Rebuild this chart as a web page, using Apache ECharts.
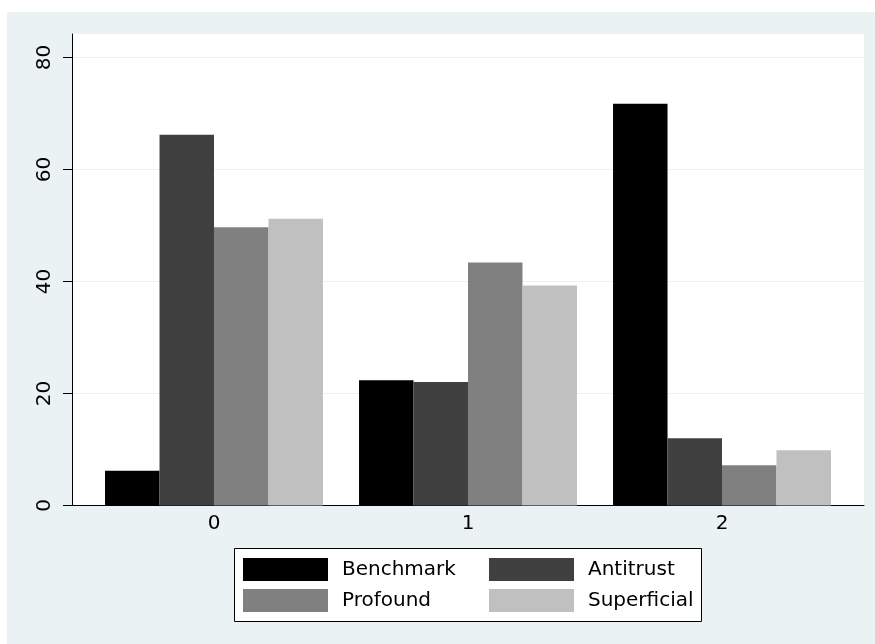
<!DOCTYPE html>
<html>
<head>
<meta charset="utf-8">
<script src="https://cdn.jsdelivr.net/npm/echarts@6/dist/echarts.min.js"></script>
<style>
html,body{margin:0;padding:0;background:#fff;}
#chart{width:875px;height:644px;}
</style>
</head>
<body>
<div id="chart"></div>
<script>
const categories = ['0', '1', '2'];
const seriesNames = ['Benchmark', 'Antitrust', 'Profound', 'Superficial'];
const benchmark = [6.2, 22.35, 71.75];
const antitrust = [66.2, 22.05, 12.0];
const profound = [49.7, 43.4, 7.2];
const superficial = [51.2, 39.3, 9.85];
const yTicks = [0, 20, 40, 60, 80];

const colors = ['#000000', '#404040', '#808080', '#c0c0c0'];
const values = [benchmark, antitrust, profound, superficial];
const FONT = 'DejaVu Sans';

const chart = echarts.init(document.getElementById('chart'));
const option = {
  animation: false,
  backgroundColor: 'transparent',
  textStyle: { fontFamily: FONT },
  graphic: [
    { type: 'rect', z: -100, shape: { x: 7, y: 12, width: 868, height: 632 }, style: { fill: '#eaf2f3' } },
    { type: 'rect', z: 1, shape: { x: 234.5, y: 548.5, width: 467, height: 73 }, style: { fill: '#ffffff', stroke: '#000000', lineWidth: 1 } }
  ],
  grid: [
    { left: 72, top: 34, width: 792, height: 471.5, show: true, backgroundColor: '#ffffff', borderWidth: 0, outerBoundsMode: 'none' },
    { left: 72, top: 57.5, width: 792, height: 448, outerBoundsMode: 'none' },
    { left: 87, top: 57.5, width: 762, height: 448, outerBoundsMode: 'none' }
  ],
  xAxis: [
    { gridIndex: 0, type: 'value', min: 0, max: 1, show: false },
    { gridIndex: 1, type: 'value', min: 0, max: 1, axisLine: { show: true, lineStyle: { color: '#000', width: 1 } }, axisTick: { show: false }, axisLabel: { show: false }, splitLine: { show: false } },
    { gridIndex: 2, type: 'category', data: categories, axisLine: { show: false }, axisTick: { show: false }, splitLine: { show: false },
      axisLabel: { color: '#000', fontSize: 20, fontFamily: FONT, margin: 8 } }
  ],
  yAxis: [
    { gridIndex: 0, type: 'value', min: 0, max: 1, axisLine: { show: true, lineStyle: { color: '#000', width: 1 } }, axisTick: { show: false }, axisLabel: { show: false }, splitLine: { show: false } },
    { gridIndex: 1, type: 'value', min: yTicks[0], max: yTicks[yTicks.length - 1], interval: yTicks[1] - yTicks[0],
      axisLine: { show: false },
      axisTick: { show: true, length: 9, lineStyle: { color: '#000', width: 1 } },
      axisLabel: { color: '#000', fontSize: 20, fontFamily: FONT, rotate: 90, margin: 17 },
      splitLine: { show: true, lineStyle: { color: '#eaf2f3', width: 1 } } },
    { gridIndex: 2, type: 'value', min: yTicks[0], max: yTicks[yTicks.length - 1], show: false }
  ],
  legend: [
    { data: [seriesNames[0], seriesNames[2]], orient: 'vertical', left: 243, top: 558, padding: 0, itemGap: 8,
      itemWidth: 85, itemHeight: 23, icon: 'rect', selectedMode: false,
      textStyle: { color: '#000', fontSize: 20, fontFamily: FONT, padding: [0, 0, 0, 9] } },
    { data: [seriesNames[1], seriesNames[3]], orient: 'vertical', left: 489, top: 558, padding: 0, itemGap: 8,
      itemWidth: 85, itemHeight: 23, icon: 'rect', selectedMode: false,
      textStyle: { color: '#000', fontSize: 20, fontFamily: FONT, padding: [0, 0, 0, 9] } }
  ],
  series: seriesNames.map((name, i) => ({
    name: name,
    type: 'bar',
    xAxisIndex: 2,
    yAxisIndex: 2,
    data: values[i],
    barGap: '0%',
    barCategoryGap: '14.2%',
    itemStyle: { color: colors[i] }
  }))
};
chart.setOption(option);
</script>
</body>
</html>
